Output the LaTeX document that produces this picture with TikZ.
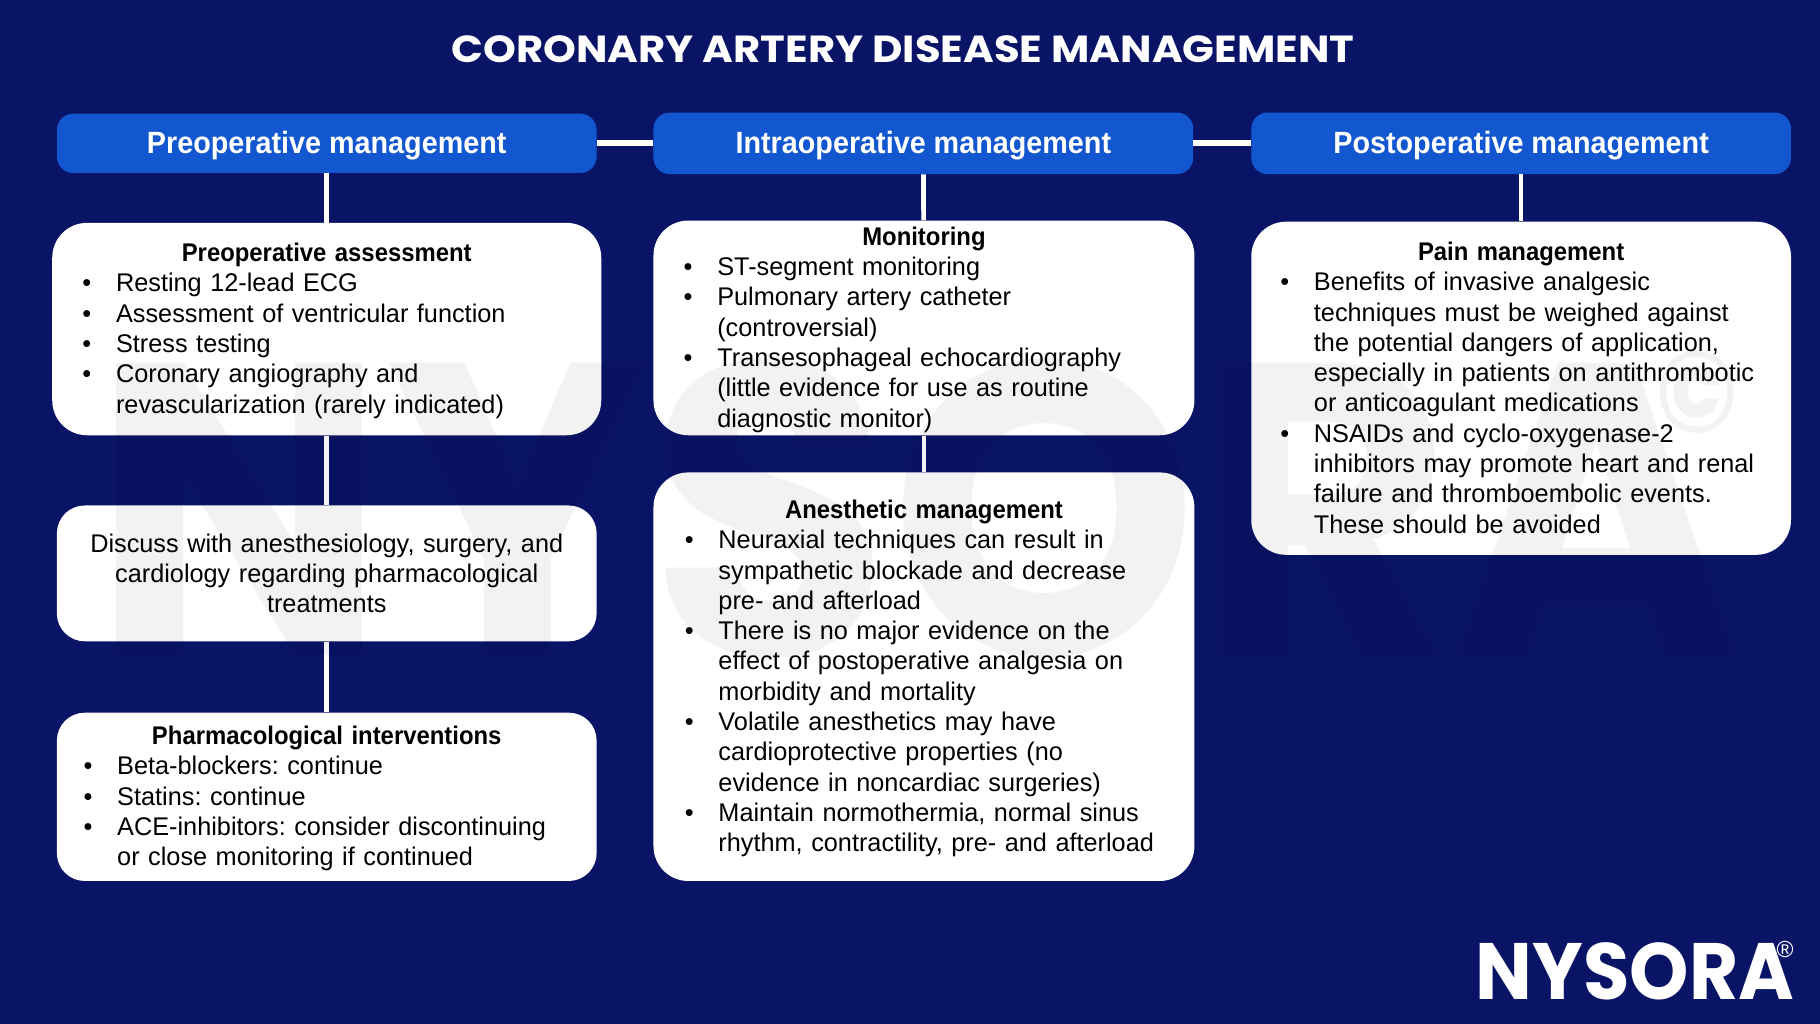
\documentclass[tikz,border=0pt]{standalone}
\usepackage{fontspec}
\setmainfont[FakeStretch=0.99,BoldFeatures={FakeStretch=0.935}]{Liberation Sans}
\newfontfamily\logofont{Poppins}
\usetikzlibrary{positioning}
\definecolor{pagebg}{HTML}{0A1467}
\definecolor{headblue}{HTML}{1257CF}
\newcommand{\hd}[1]{\hbox to \linewidth{\rule{0pt}{19pt}\hfil\bfseries #1\hfil}}
\newcommand{\itm}{\par\noindent\hbox to 29pt{\textbullet\hfil}}
\newcommand{\cnt}{\par\noindent\hspace*{29pt}}
\tikzset{
 headbox/.style={fill=headblue,text=white,rounded corners=14pt,minimum width=465pt,minimum height=52pt,text height=23pt,text depth=6pt,font=\fontsize{26.5}{30}\selectfont\bfseries,inner sep=0pt},
 listbox/.style={fill=white,text=black,rounded corners=30pt,inner xsep=26pt,inner ysep=0pt,align=left,font=\fontsize{22}{26.1}\selectfont\frenchspacing},
 link/.style={draw=white,line width=4pt},
 mark text/.style={text=black,text opacity=0.05,inner sep=0pt}
}
\begin{document}
\begin{tikzpicture}[x=1pt,y=-1pt]
 \fill[pagebg] (0,0) rectangle (1568,882);
 \node[text=white,inner sep=0pt] (title) at (778,42) {\scalebox{1.108}[1]{\logofont\bfseries\fontsize{32.5}{36}\selectfont CORONARY ARTERY DISEASE MANAGEMENT}};
 % headers
 \node[headbox,minimum height=51pt] (pre) at (281.5,123.5) {Preoperative management};
 \node[headbox,minimum height=53pt] (intra) at (795.5,123.5) {Intraoperative management};
 \node[headbox,minimum height=53pt] (post) at (1310.5,123.5) {Postoperative management};
 % first column
 \node[listbox,text width=421pt,minimum height=183pt] (assess) at (281.5,283.5) {\hd{Preoperative assessment}
  \itm Resting 12-lead ECG
  \itm Assessment of ventricular function
  \itm Stress testing
  \itm Coronary angiography and
  \cnt revascularization (rarely indicated)};
 \node[listbox,rounded corners=24pt,text width=440pt,inner xsep=12.5pt,minimum height=117pt,align=center] (discuss) at (281.5,494) {Discuss with anesthesiology, surgery, and\\cardiology regarding pharmacological\\treatments};
 \node[listbox,rounded corners=24pt,text width=419pt,inner xsep=23pt,minimum height=145pt] (pharma) at (281.5,686.5) {\hd{Pharmacological interventions}
  \itm Beta-blockers: continue
  \itm Statins: continue
  \itm ACE-inhibitors: consider discontinuing
  \cnt or close monitoring if continued};
 % second column
 \node[listbox,text width=414pt,minimum height=185pt] (monitor) at (796,282.5) {\hd{Monitoring}
  \itm ST-segment monitoring
  \itm Pulmonary artery catheter
  \cnt (controversial)
  \itm Transesophageal echocardiography
  \cnt (little evidence for use as routine
  \cnt diagnostic monitor)};
 \node[listbox,text width=412pt,inner xsep=27pt,minimum height=352pt] (anes) at (796,583) {\hd{Anesthetic management}
  \itm Neuraxial techniques can result in
  \cnt sympathetic blockade and decrease
  \cnt pre- and afterload
  \itm There is no major evidence on the
  \cnt effect of postoperative analgesia on
  \cnt morbidity and mortality
  \itm Volatile anesthetics may have
  \cnt cardioprotective properties (no
  \cnt evidence in noncardiac surgeries)
  \itm Maintain normothermia, normal sinus
  \cnt rhythm, contractility, pre- and afterload};
 % third column
 \node[listbox,text width=415pt,inner xsep=25pt,minimum height=287pt] (pain) at (1310.5,334.5) {\hd{Pain management}
  \itm Benefits of invasive analgesic
  \cnt techniques must be weighed against
  \cnt the potential dangers of application,
  \cnt especially in patients on antithrombotic
  \cnt or anticoagulant medications
  \itm NSAIDs and cyclo-oxygenase-2
  \cnt inhibitors may promote heart and renal
  \cnt failure and thromboembolic events.
  \cnt These should be avoided\par\vspace*{4pt}};
 % links
 \draw[link,line width=5pt] (pre) -- (intra);
 \draw[link,line width=5pt] (intra) -- (post);
 \draw[link] (pre) -- (assess);
 \draw[link] (assess) -- (discuss);
 \draw[link] (discuss) -- (pharma);
 \draw[link] (intra) -- (monitor);
 \draw[link] (monitor) -- (anes);
 \draw[link] (post) -- (pain);
 % watermark
 \node[mark text] (stamp) at (790,438) {\resizebox{1420pt}{255pt}{\logofont\bfseries NYSORA}};
 \node[mark text] (stampr) at (1462,338) {\resizebox{70pt}{70pt}{\logofont\bfseries\textcopyright}};
 % logo
 \node[text=white,inner sep=0pt] (logo) at (1408.5,837) {\resizebox{274pt}{49pt}{\logofont\bfseries NYSORA}};
 \node[text=white,inner sep=0pt,font=\fontsize{20}{20}\selectfont] (regmark) at (1538,818) {\textregistered};
\end{tikzpicture}
\end{document}
